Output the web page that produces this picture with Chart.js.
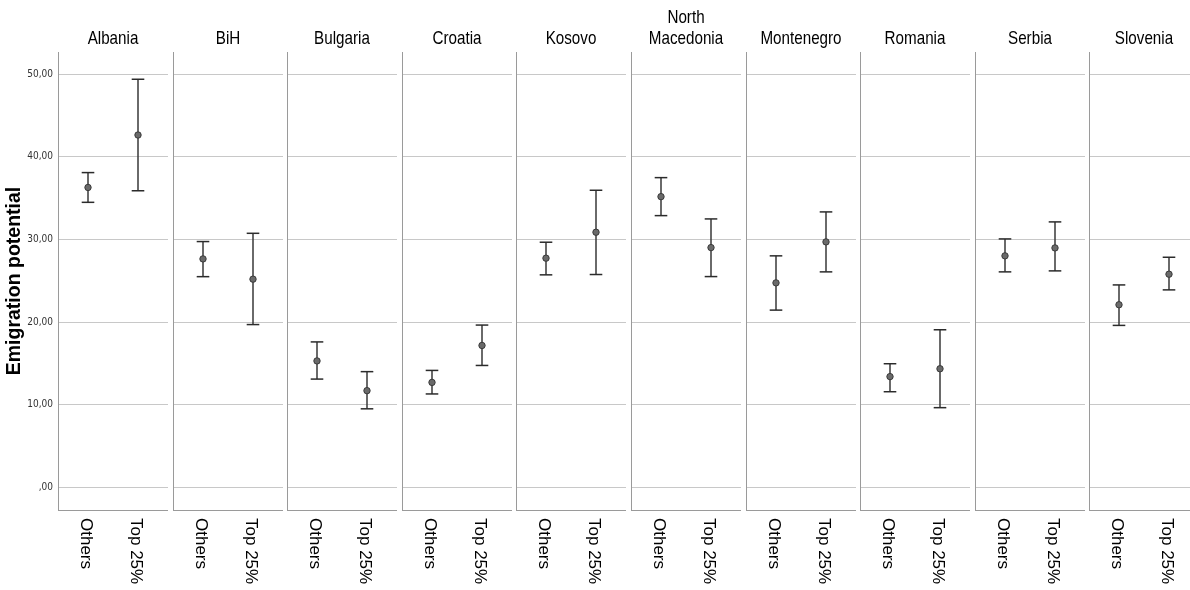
<!DOCTYPE html>
<html>
<head>
<meta charset="utf-8">
<script src="https://cdn.jsdelivr.net/npm/chart.js"></script>
<style>
  body { margin: 0; background: #fff; }
  #wrap { position: relative; width: 1190px; height: 590px; overflow: hidden; background: #fff; }
  #wrap canvas { position: absolute; top: 0; }
</style>
</head>
<body>
<div id="wrap"></div>
<script>
  // values (means and 95% CI bounds)
  const countries = ['Albania', 'BiH', 'Bulgaria', 'Croatia', 'Kosovo', 'North\nMacedonia', 'Montenegro', 'Romania', 'Serbia', 'Slovenia'];
  const groups = ['Others', 'Top 25%'];
  const othersMean = [36.3, 27.65, 15.3, 12.7, 27.74, 35.19, 24.75, 13.4, 28.02, 22.1];
  const othersLow = [34.5, 25.5, 13.1, 11.3, 25.72, 32.89, 21.45, 11.57, 26.08, 19.6];
  const othersHigh = [38.1, 29.75, 17.6, 14.15, 29.67, 37.49, 28.02, 14.96, 30.07, 24.5];
  const topMean = [42.65, 25.2, 11.7, 17.17, 30.88, 29.02, 29.71, 14.35, 28.98, 25.8];
  const topLow = [35.9, 19.7, 9.5, 14.75, 25.76, 25.51, 26.08, 9.64, 26.2, 23.9];
  const topHigh = [49.4, 30.75, 14.0, 19.64, 35.96, 32.49, 33.34, 19.07, 32.13, 27.85];
  const yTicks = [0, 10, 20, 30, 40, 50];

  const narrow = "'DejaVu Sans Condensed', sans-serif";
  const regular = "'Liberation Sans', Arial, sans-serif";

  // panel layout
  const axisW = 58;
  const pitch = 114.6;
  const panelW = 110;
  const pad = 3;

  // country names, a bit condensed like the original
  const countryTitle = {
    id: 'countryTitle',
    afterDraw(chart, args, opts) {
      const { ctx, chartArea } = chart;
      const lines = opts.lines;
      const cx = (chartArea.left + chartArea.right) / 2;
      ctx.save();
      ctx.font = '19px ' + regular;
      ctx.fillStyle = '#000';
      ctx.textAlign = 'center';
      ctx.textBaseline = 'middle';
      lines.forEach((t, k) => {
        const y = 38.5 - (lines.length - 1 - k) * 20.5;
        ctx.save();
        ctx.translate(cx, y);
        ctx.scale(0.8, 1);
        ctx.fillText(t, 0, 0);
        ctx.restore();
      });
      ctx.restore();
    }
  };

  // x labels drawn rotated clockwise (top-to-bottom reading)
  const groupLabels = {
    id: 'groupLabels',
    afterDraw(chart) {
      const ctx = chart.ctx;
      const xs = chart.scales.x;
      ctx.save();
      ctx.font = '17px ' + regular;
      ctx.fillStyle = '#000';
      ctx.textAlign = 'left';
      ctx.textBaseline = 'middle';
      groups.forEach((g, j) => {
        ctx.save();
        ctx.translate(xs.getPixelForValue(j) - 2, chart.chartArea.bottom + 8);
        ctx.rotate(Math.PI / 2);
        ctx.fillText(g, 0, 0);
        ctx.restore();
      });
      ctx.restore();
    }
  };

  const wrap = document.getElementById('wrap');

  countries.forEach((name, i) => {
    const first = i === 0;
    const left = first ? 0 : Math.round(axisW + pitch * i) - pad;
    const width = first ? axisW + panelW : pad + panelW;

    const canvas = document.createElement('canvas');
    canvas.width = width;
    canvas.height = 590;
    canvas.style.left = left + 'px';
    wrap.appendChild(canvas);

    const means = [{ x: 0, y: othersMean[i] }, { x: 1, y: topMean[i] }];
    const caps = [
      { x: 0, y: othersLow[i] }, { x: 0, y: othersHigh[i] },
      { x: 1, y: topLow[i] }, { x: 1, y: topHigh[i] }
    ];
    const whiskers = [
      { x: 0, y: othersLow[i] }, { x: 0, y: othersHigh[i] }, { x: 0.5, y: null },
      { x: 1, y: topLow[i] }, { x: 1, y: topHigh[i] }
    ];

    new Chart(canvas.getContext('2d'), {
      type: 'scatter',
      data: {
        datasets: [{
          label: 'Mean',
          data: means,
          pointRadius: 3.2,
          pointHoverRadius: 3.2,
          backgroundColor: '#6a6a6a',
          borderColor: '#3a3a3a',
          borderWidth: 1
        }, {
          label: 'Caps',
          data: caps,
          pointStyle: 'line',
          pointRadius: 6.3,
          borderColor: '#2b2b2b',
          borderWidth: 1.5
        }, {
          label: 'CI',
          type: 'line',
          data: whiskers,
          showLine: true,
          spanGaps: false,
          pointRadius: 0,
          borderColor: '#3a3a3a',
          borderWidth: 1.5
        }]
      },
      options: {
        responsive: false,
        animation: false,
        events: [],
        layout: { padding: { top: 52 }, autoPadding: false },
        plugins: {
          legend: { display: false },
          tooltip: { enabled: false },
          title: { display: false },
          countryTitle: { lines: name.split('\n') }
        },
        scales: {
          x: {
            type: 'linear',
            min: -0.6,
            max: 1.6,
            grid: { display: false },
            border: { display: true, color: '#9a9a9a', width: 1 },
            ticks: { display: false },
            afterFit: s => { s.height = 80; }
          },
          y: {
            min: -2.75,
            max: 52.7,
            afterBuildTicks: s => { s.ticks = yTicks.map(v => ({ value: v })); },
            grid: { color: '#c8c8c8', lineWidth: 1, drawTicks: false },
            border: { display: true, color: '#9a9a9a', width: 1 },
            ticks: {
              display: first,
              padding: 5,
              color: '#333',
              font: { family: narrow, size: 10 },
              callback: v => v === 0 ? ',00' : v.toFixed(2).replace('.', ',')
            },
            title: {
              display: first,
              text: 'Emigration potential',
              color: '#000',
              font: { family: regular, size: 19.5, weight: 'bold' },
              padding: { top: 3, bottom: 0 }
            },
            afterFit: s => { s.width = first ? axisW : pad; }
          }
        }
      },
      plugins: [countryTitle, groupLabels]
    });
  });
</script>
</body>
</html>
